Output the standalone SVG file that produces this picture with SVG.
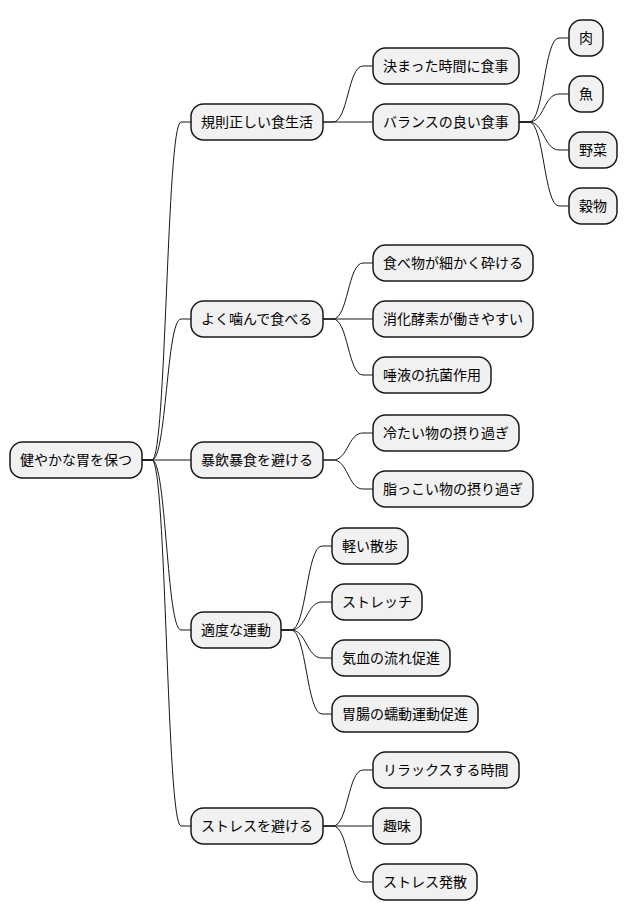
<svg xmlns="http://www.w3.org/2000/svg" width="628" height="921" viewBox="0 0 628 921">
<style>
.n rect{fill:#F1F1F1;stroke:#181818;stroke-width:1.5}
.n text{font-family:"Noto Sans CJK JP","Noto Sans",sans-serif;font-size:14px;fill:#000}
.e path{fill:none;stroke:#181818;stroke-width:1}
</style>
<rect width="628" height="921" fill="#FFFFFF"/>
<g class="e" id="connectors">
<path d="M142,460 L152,460 C166.5,460 166.5,122 181,122 L191,122"/>
<path d="M142,460 L152,460 C166.5,460 166.5,319 181,319 L191,319"/>
<path d="M142,460 L191,460"/>
<path d="M142,460 L152,460 C166.5,460 166.5,630 181,630 L191,630"/>
<path d="M142,460 L152,460 C166.5,460 166.5,826 181,826 L191,826"/>
<path d="M323,122 L333,122 C348,122 348,66 363,66 L373,66"/>
<path d="M323,122 L373,122"/>
<path d="M519,122 L529,122 C544,122 544,38 559,38 L569,38"/>
<path d="M519,122 L529,122 C544,122 544,94 559,94 L569,94"/>
<path d="M519,122 L529,122 C544,122 544,150 559,150 L569,150"/>
<path d="M519,122 L529,122 C544,122 544,206 559,206 L569,206"/>
<path d="M323,319 L333,319 C348,319 348,263 363,263 L373,263"/>
<path d="M323,319 L373,319"/>
<path d="M323,319 L333,319 C348,319 348,375 363,375 L373,375"/>
<path d="M323,460 L333,460 C348,460 348,433 363,433 L373,433"/>
<path d="M323,460 L333,460 C348,460 348,489 363,489 L373,489"/>
<path d="M281,630 L291,630 C306.5,630 306.5,546 322,546 L332,546"/>
<path d="M281,630 L291,630 C306.5,630 306.5,602 322,602 L332,602"/>
<path d="M281,630 L291,630 C306.5,630 306.5,658 322,658 L332,658"/>
<path d="M281,630 L291,630 C306.5,630 306.5,714 322,714 L332,714"/>
<path d="M323,826 L333,826 C348,826 348,770 363,770 L373,770"/>
<path d="M323,826 L373,826"/>
<path d="M323,826 L333,826 C348,826 348,882 363,882 L373,882"/>
</g>
<g class="n" id="root"><rect x="10" y="442" width="132" height="36" rx="12.5"/><text x="20" y="465">健やかな胃を保つ</text></g>
<g class="n" id="n1"><rect x="191" y="104" width="132" height="36" rx="12.5"/><text x="201" y="127">規則正しい食生活</text></g>
<g class="n" id="n1a"><rect x="373" y="48" width="146" height="36" rx="12.5"/><text x="383" y="71">決まった時間に食事</text></g>
<g class="n" id="n1b"><rect x="373" y="104" width="146" height="36" rx="12.5"/><text x="383" y="127">バランスの良い食事</text></g>
<g class="n" id="n1b1"><rect x="569" y="20" width="34" height="36" rx="12.5"/><text x="579" y="43">肉</text></g>
<g class="n" id="n1b2"><rect x="569" y="76" width="34" height="36" rx="12.5"/><text x="579" y="99">魚</text></g>
<g class="n" id="n1b3"><rect x="569" y="132" width="48" height="36" rx="12.5"/><text x="579" y="155">野菜</text></g>
<g class="n" id="n1b4"><rect x="569" y="188" width="48" height="36" rx="12.5"/><text x="579" y="211">穀物</text></g>
<g class="n" id="n2"><rect x="191" y="301" width="132" height="36" rx="12.5"/><text x="201" y="324">よく噛んで食べる</text></g>
<g class="n" id="n2a"><rect x="373" y="245" width="160" height="36" rx="12.5"/><text x="383" y="268">食べ物が細かく砕ける</text></g>
<g class="n" id="n2b"><rect x="373" y="301" width="160" height="36" rx="12.5"/><text x="383" y="324">消化酵素が働きやすい</text></g>
<g class="n" id="n2c"><rect x="373" y="357" width="118" height="36" rx="12.5"/><text x="383" y="380">唾液の抗菌作用</text></g>
<g class="n" id="n3"><rect x="191" y="442" width="132" height="36" rx="12.5"/><text x="201" y="465">暴飲暴食を避ける</text></g>
<g class="n" id="n3a"><rect x="373" y="415" width="146" height="36" rx="12.5"/><text x="383" y="438">冷たい物の摂り過ぎ</text></g>
<g class="n" id="n3b"><rect x="373" y="471" width="160" height="36" rx="12.5"/><text x="383" y="494">脂っこい物の摂り過ぎ</text></g>
<g class="n" id="n4"><rect x="191" y="612" width="90" height="36" rx="12.5"/><text x="201" y="635">適度な運動</text></g>
<g class="n" id="n4a"><rect x="332" y="528" width="76" height="36" rx="12.5"/><text x="342" y="551">軽い散歩</text></g>
<g class="n" id="n4b"><rect x="332" y="584" width="90" height="36" rx="12.5"/><text x="342" y="607">ストレッチ</text></g>
<g class="n" id="n4c"><rect x="332" y="640" width="118" height="36" rx="12.5"/><text x="342" y="663">気血の流れ促進</text></g>
<g class="n" id="n4d"><rect x="332" y="696" width="146" height="36" rx="12.5"/><text x="342" y="719">胃腸の蠕動運動促進</text></g>
<g class="n" id="n5"><rect x="191" y="808" width="132" height="36" rx="12.5"/><text x="201" y="831">ストレスを避ける</text></g>
<g class="n" id="n5a"><rect x="373" y="752" width="146" height="36" rx="12.5"/><text x="383" y="775">リラックスする時間</text></g>
<g class="n" id="n5b"><rect x="373" y="808" width="48" height="36" rx="12.5"/><text x="383" y="831">趣味</text></g>
<g class="n" id="n5c"><rect x="373" y="864" width="104" height="36" rx="12.5"/><text x="383" y="887">ストレス発散</text></g>
</svg>
